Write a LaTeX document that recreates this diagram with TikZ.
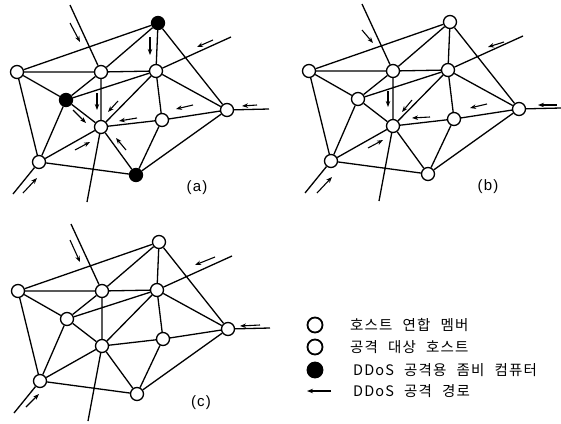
\documentclass[tikz,border=0pt]{standalone}
\usepackage{fontspec}
\usetikzlibrary{arrows.meta}
\newfontfamily\krfont[LetterSpace=8,WordSpace=2.3]{Noto Sans CJK KR}
\newfontfamily\labfont[LetterSpace=8]{Liberation Sans}
\tikzset{
  host/.style={circle,draw,line width=1.3pt,minimum size=13pt,inner sep=0pt,fill=white},
  zombie/.style={host,fill=black},
  edge/.style={line width=1.3pt},
  atk/.style={line width=1.1pt,-{Stealth[length=6pt,width=4.5pt]}},
  lab/.style={inner sep=0pt,font=\labfont\fontsize{15}{17}\selectfont},
  legtext/.style={inner sep=0pt,anchor=west,font=\krfont\fontsize{14.5}{16}\selectfont},
  legcirc/.style={circle,draw,line width=1.8pt,minimum size=15pt,inner sep=0pt,fill=white}
}
\newcommand\netpanel[4]{%
  \node[#2] (#1A) at (158,23) {};
  \node[host] (#1L) at (17,72) {};
  \node[host] (#1M) at (101,72) {};
  \node[host] (#1R) at (156,71) {};
  \node[#3] (#1B) at (66,100) {};
  \node[host] (#1C) at (101,127) {};
  \node[host] (#1D) at (162,120) {};
  \node[host] (#1E) at (227,110) {};
  \node[host] (#1F) at (39,162) {};
  \node[#4] (#1G) at (136,175) {};
  \coordinate (#1t) at (70,5);
  \coordinate (#1u) at (231,37);
  \coordinate (#1r) at (269,109);
  \coordinate (#1l) at (13,194);
  \coordinate (#1d) at (87,202);
  \draw[edge] (#1A) -- (#1L) (#1A) -- (#1M) (#1A) -- (#1R) (#1A) -- (#1E)
    (#1L) -- (#1M) (#1M) -- (#1R) (#1L) -- (#1B) (#1L) -- (#1F)
    (#1B) -- (#1M) (#1B) -- (#1R) (#1B) -- (#1C) (#1B) -- (#1F)
    (#1M) -- (#1C) (#1R) -- (#1C) (#1R) -- (#1D) (#1R) -- (#1E)
    (#1D) -- (#1C) (#1D) -- (#1E) (#1D) -- (#1G) (#1C) -- (#1G)
    (#1C) -- (#1F) (#1F) -- (#1G) (#1G) -- (#1E)
    (#1t) -- (#1M) (#1R) -- (#1u) (#1E) -- (#1r) (#1F) -- (#1l) (#1C) -- (#1d);
}
\begin{document}
\begin{tikzpicture}[x=1pt,y=-1pt]
\useasboundingbox[fill=white] (0,0) rectangle (561,423);
% panel (a)
\netpanel{a}{zombie}{zombie}{zombie}
\node[lab] (la) at (197,188) {(a)};
% panel (b)
\begin{scope}[shift={(292,-1)}]
\netpanel{b}{host}{host}{host}
\end{scope}
\node[lab] (lb) at (488,187) {(b)};
% panel (c)
\begin{scope}[shift={(1,219)}]
\netpanel{c}{host}{host}{host}
\end{scope}
\node[lab] (lc) at (201,403) {(c)};
% attack arrows (a)
\draw[atk] (70,23) -- (80,42);
\draw[atk] (150,37) -- (150,55);
\draw[atk] (213,40) -- (197,47);
\draw[atk] (257,105) -- (242,106);
\draw[atk] (97,93) -- (97,110);
\draw[atk] (118,101) -- (108,112);
\draw[atk] (193,105) -- (176,109);
\draw[atk] (137,118) -- (119,121);
\draw[atk] (73,110) -- (86,123);
\draw[atk] (126,150) -- (116,138);
\draw[atk] (75,150) -- (90,142);
\draw[atk] (23,193) -- (37,178);
% attack arrows (b)
\draw[atk] (362,30) -- (373,43);
\draw[atk] (504,42) -- (488,47);
\draw[atk] (557,105) -- (538,105);
\draw[atk] (388,91) -- (388,107);
\draw[atk] (412,100) -- (402,112);
\draw[atk] (487,104) -- (470,108);
\draw[atk] (430,117) -- (412,118);
\draw[atk] (368,148) -- (383,140);
\draw[atk] (317,193) -- (332,177);
% attack arrows (c)
\draw[atk] (70,240) -- (80,262);
\draw[atk] (215,257) -- (195,265);
\draw[atk] (260,325) -- (240,326);
\draw[atk] (26,407) -- (39,394);
% legend
\node[legcirc] (g1) at (315,325) {};
\node[legcirc] (g2) at (315,347) {};
\node[legcirc,fill=black] (g3) at (315,370) {};
\coordinate (g4a) at (331,391);
\coordinate (g4b) at (307,391);
\draw[atk] (g4a) -- (g4b);
\node[legtext] (t1) at (350,325) {호스트 연합 멤버};
\node[legtext] (t2) at (350,347) {공격 대상 호스트};
\node[legtext] (t3) at (353,370) {DDoS 공격용 좀비 컴퓨터};
\node[legtext] (t4) at (353,391) {DDoS 공격 경로};
\end{tikzpicture}
\end{document}
